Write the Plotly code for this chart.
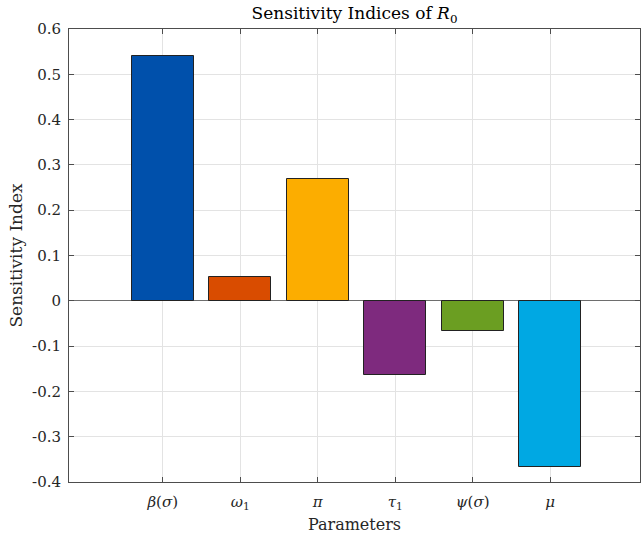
import plotly.graph_objects as go

categories = ["<i>β</i>(<i>σ</i>)", "<i>ω</i><sub>1</sub>", "<i>π</i>", "<i>τ</i><sub>1</sub>", "<i>ψ</i>(<i>σ</i>)", "<i>μ</i>"]
positions = [1, 2, 3, 4, 5, 6]
values = [0.540, 0.053, 0.269, -0.163, -0.066, -0.367]
colors = ["#0050AB", "#D94C00", "#FCAD00", "#7E2A7E", "#6B9E22", "#00A8E3"]
ytick_vals = [-0.4, -0.3, -0.2, -0.1, 0, 0.1, 0.2, 0.3, 0.4, 0.5, 0.6]
ytick_text = ["-0.4", "-0.3", "-0.2", "-0.1", "0", "0.1", "0.2", "0.3", "0.4", "0.5", "0.6"]

font_family = "DejaVu Serif, Liberation Serif, serif"
axis_color = "#4d4d4d"

fig = go.Figure()
fig.add_trace(go.Bar(
    x=positions, y=values, width=0.8,
    marker=dict(color=colors, line=dict(color="#222222", width=1)),
    showlegend=False,
))

fig.update_layout(
    width=641, height=534,
    margin=dict(l=69, r=1, t=29, b=52),
    paper_bgcolor="white", plot_bgcolor="white",
    font=dict(family=font_family, color="#262626", size=15),
    title=dict(text="Sensitivity Indices of <i>R</i><sub>0</sub>", x=0.5, xanchor="center",
               xref="paper", y=1 - 13 / 534, yanchor="middle",
               font=dict(size=17, family=font_family, color="#000000")),
    bargap=0,
)

fig.update_xaxes(
    range=[-0.21, 7.16],
    tickvals=positions, ticktext=categories,
    showgrid=True, gridcolor="#e3e3e3", gridwidth=1,
    showline=True, linecolor=axis_color, linewidth=1, mirror="ticks",
    ticks="inside", ticklen=5, tickcolor=axis_color,
    zeroline=False,
    ticklabelstandoff=6,
    title=dict(text="Parameters", font=dict(size=16), standoff=8),
    tickfont=dict(size=15),
)
fig.update_yaxes(
    range=[-0.4, 0.6],
    tickvals=ytick_vals, ticktext=ytick_text,
    showgrid=True, gridcolor="#e3e3e3", gridwidth=1,
    showline=True, linecolor=axis_color, linewidth=1, mirror="ticks",
    ticks="inside", ticklen=5, tickcolor=axis_color,
    zeroline=True, zerolinecolor="#6e6e6e", zerolinewidth=1,
    ticklabelstandoff=4,
    title=dict(text="Sensitivity Index", font=dict(size=17), standoff=5),
    tickfont=dict(size=15),
)

fig.write_html("out.html")
